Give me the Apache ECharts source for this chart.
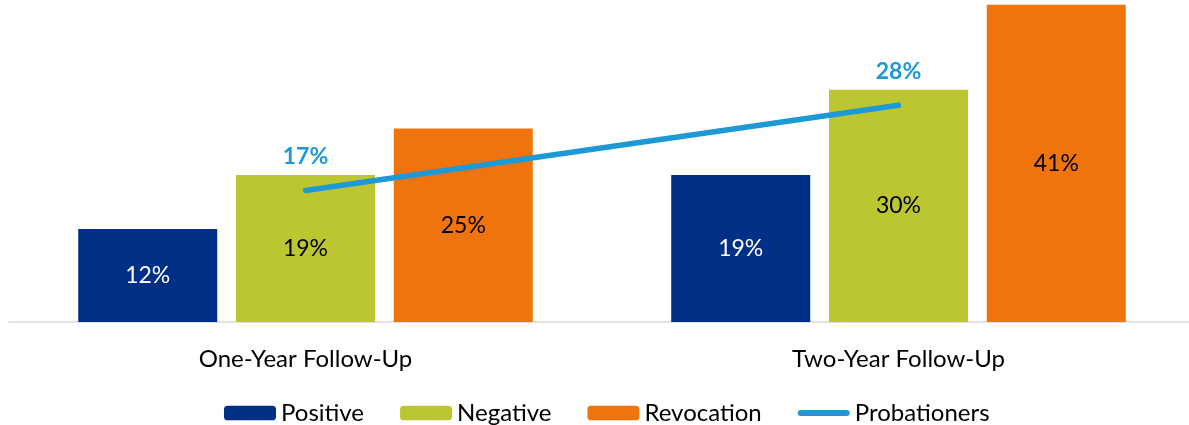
<!DOCTYPE html>
<html>
<head>
<meta charset="utf-8">
<script src="https://cdn.jsdelivr.net/npm/echarts@6/dist/echarts.min.js"></script>
<style>
  html, body { margin: 0; padding: 0; background: #fff; }
  #chart1 { width: 1189px; height: 425px; }
</style>
</head>
<body>
<div id="chart1"></div>
<script>
// 数据
var categories = ['One-Year Follow-Up', 'Two-Year Follow-Up'];
var positive = [12, 19];
var negative = [19, 30];
var revocation = [25, 41];
var probationers = [17, 28];

var myChart1 = echarts.init(document.getElementById('chart1'));

// 柱子里面的标签
var barLabel = function (color) {
    return {
        show: true,
        position: 'inside',
        color: color,
        fontFamily: 'Lato',
        fontSize: 23,
        formatter: '{c}%'
    };
};

var option = {
    animation: false,
    textStyle: { fontFamily: 'Lato' },
    grid: {
        left: 9,
        top: 0,
        width: 1186,
        height: 322,
        outerBoundsMode: 'none',
        containLabel: false
    },
    // 图例
    legend: {
        left: 219,
        top: 396,
        itemWidth: 52,
        itemHeight: 14.5,
        itemGap: 36,
        textStyle: { fontSize: 24, color: '#000', fontFamily: 'Lato' },
        data: [
            'Positive',
            'Negative',
            'Revocation',
            { name: 'Probationers', icon: 'path://M3,0 H49 A3,3 0 0 1 49,6 H3 A3,3 0 0 1 3,0 Z' }
        ]
    },
    xAxis: {
        type: 'category',
        data: categories,
        axisLine: { lineStyle: { color: '#d9d9d9', width: 1.5 } },
        axisTick: { show: false },
        axisLabel: { fontSize: 24, color: '#000', margin: 25, fontFamily: 'Lato' }
    },
    yAxis: {
        type: 'value',
        min: 0,
        max: 41.6,
        show: false,
        splitLine: { show: false }
    },
    series: [
        {
            name: 'Positive',
            type: 'bar',
            barWidth: 139,
            barGap: '13.5%',
            itemStyle: { color: '#002f87' },
            label: barLabel('#fff'),
            data: positive
        },
        {
            name: 'Negative',
            type: 'bar',
            barWidth: 139,
            itemStyle: { color: '#bcc631' },
            label: barLabel('#000'),
            data: negative
        },
        {
            name: 'Revocation',
            type: 'bar',
            barWidth: 139,
            itemStyle: { color: '#f0740d' },
            label: barLabel('#000'),
            data: revocation
        },
        {
            name: 'Probationers',
            type: 'line',
            symbol: 'circle',
            symbolSize: 1,
            z: 5,
            lineStyle: { color: '#1d99d6', width: 5.5, cap: 'round' },
            itemStyle: { color: '#1d99d6' },
            label: {
                show: true,
                position: 'top',
                distance: 22,
                color: '#1d99d6',
                fontWeight: 'bold',
                fontSize: 23,
                fontFamily: 'Lato',
                formatter: '{c}%'
            },
            data: probationers
        }
    ]
};

myChart1.setOption(option);
</script>
</body>
</html>
